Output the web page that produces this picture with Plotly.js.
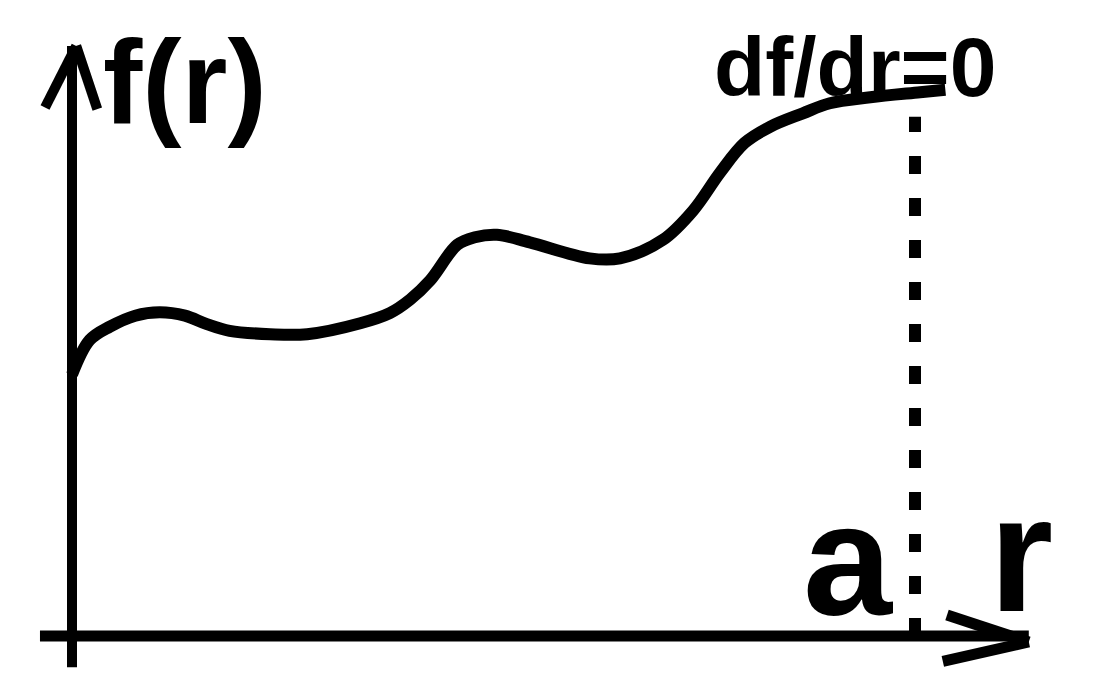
<!DOCTYPE html>
<html>
<head>
<meta charset="utf-8">
<script src="https://cdn.plot.ly/plotly-3.0.1.min.js"></script>
<style>html,body{margin:0;padding:0;background:#fff;}#chart{width:1095px;height:685px;}</style>
</head>
<body>
<div id="chart"></div>
<script>
// Curve f(r) (a = 10)
const rValues = [0, 0.21, 0.45, 0.75, 1.04, 1.34, 1.60, 1.87, 2.35, 2.79, 3.42, 3.77, 4.01, 4.25, 4.57, 4.78, 5.04, 5.43, 6.14, 6.50, 7.01, 7.37, 7.69, 7.98, 8.28, 8.67, 8.99, 9.47, 10.06, 10.36];
const fValues = [3.10, 3.51, 3.67, 3.80, 3.84, 3.80, 3.70, 3.62, 3.58, 3.58, 3.71, 3.83, 3.99, 4.22, 4.64, 4.73, 4.76, 4.67, 4.48, 4.48, 4.70, 5.05, 5.50, 5.85, 6.04, 6.20, 6.32, 6.39, 6.45, 6.48];
const aValue = 10;
const fAtA = 6.46;
const labels = {f: "f(r)", r: "r", a: "a", deriv: "df/dr=0"};

const FONT = "'Liberation Sans', Arial, sans-serif";
const ink = "#000";

const traces = [
  {x: rValues, y: fValues, mode: "lines", line: {color: ink, width: 12, shape: "spline", smoothing: 1.0}, hoverinfo: "skip"},
  {x: [aValue, aValue], y: [0, fAtA - 0.3], mode: "lines", line: {color: ink, width: 12, dash: "18px,24px"}, hoverinfo: "skip"}
];

const shapes = [
  // r axis
  {type: "line", x0: -0.38, y0: 0, x1: 11.35, y1: 0.0, line: {color: ink, width: 11}},
  {type: "line", x0: 10.38, y0: 0.25, x1: 11.35, y1: -0.07, line: {color: ink, width: 11}},
  {type: "line", x0: 10.33, y0: -0.3, x1: 11.35, y1: -0.07, line: {color: ink, width: 11}},
  // f axis
  {type: "line", x0: 0, y0: -0.37, x1: 0, y1: 7.0, line: {color: ink, width: 10}},
  {type: "line", x0: -0.32, y0: 6.27, x1: 0.05, y1: 7.0, line: {color: ink, width: 10}},
  {type: "line", x0: 0.3, y0: 6.25, x1: 0.05, y1: 7.0, line: {color: ink, width: 10}}
];

const annotations = [
  {x: 1.34, y: 6.57, text: "<b>" + labels.f + "</b>", showarrow: false, font: {family: FONT, size: 118, color: ink}},
  {x: 9.21, y: 0.92, text: "<b>" + labels.a + "</b>", showarrow: false, font: {family: FONT, size: 160, color: ink}},
  {x: 11.26, y: 0.97, text: "<b>" + labels.r + "</b>", showarrow: false, font: {family: FONT, size: 165, color: ink}},
  {x: 9.29, y: 6.75, text: "<b>" + labels.deriv + "</b>", showarrow: false, font: {family: FONT, size: 84, color: ink}}
];

const U = 84.3;
const layout = {
  width: 1095, height: 685,
  margin: {l: 0, r: 0, t: 0, b: 0},
  paper_bgcolor: "#fff", plot_bgcolor: "#fff",
  showlegend: false,
  xaxis: {range: [-72 / U, (1095 - 72) / U], visible: false, fixedrange: true},
  yaxis: {range: [-(685 - 636) / U, 636 / U], visible: false, fixedrange: true},
  shapes: shapes,
  annotations: annotations
};

Plotly.newPlot("chart", traces, layout, {displayModeBar: false, staticPlot: true});
</script>
</body>
</html>
